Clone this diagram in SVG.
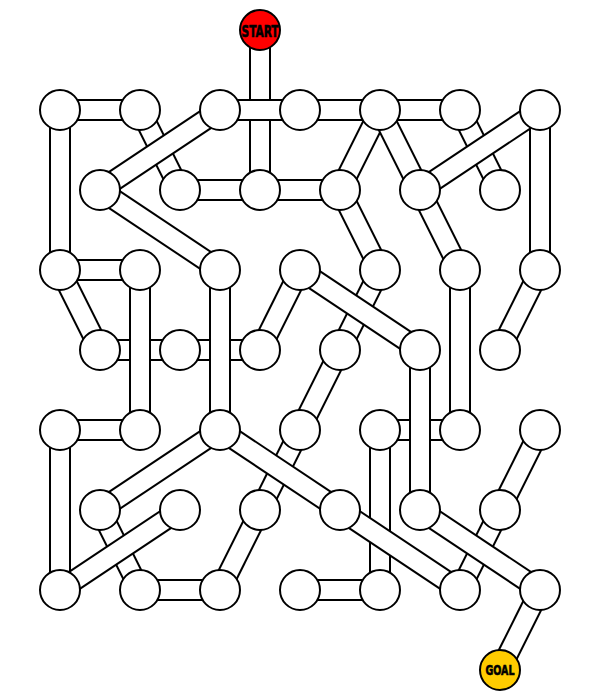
<svg xmlns="http://www.w3.org/2000/svg" width="600" height="700" viewBox="0 0 600 700">
<style>
.o{stroke:#000;stroke-width:22;stroke-linecap:butt}
.i{stroke:#fff;stroke-width:18;stroke-linecap:butt}
.n{fill:#fff;stroke:#000;stroke-width:2}
.lbl{font-family:"Liberation Sans Narrow","DejaVu Sans Condensed","Liberation Sans",sans-serif;font-weight:bold;fill:#000;stroke:#000;stroke-width:0.6;text-anchor:middle}
</style>
<defs>
<circle id="c" r="20" class="n"/>
</defs>
<rect width="600" height="700" fill="#fff"/>
<g id="connectors">
<g><line class="o" x1="260" y1="30" x2="260" y2="190"/><line class="i" x1="260" y1="30" x2="260" y2="190"/></g>
<g><line class="o" x1="60" y1="110" x2="140" y2="110"/><line class="i" x1="60" y1="110" x2="140" y2="110"/></g>
<g><line class="o" x1="60" y1="110" x2="60" y2="270"/><line class="i" x1="60" y1="110" x2="60" y2="270"/></g>
<g><line class="o" x1="140" y1="110" x2="180" y2="190"/><line class="i" x1="140" y1="110" x2="180" y2="190"/></g>
<g><line class="o" x1="220" y1="110" x2="100" y2="190"/><line class="i" x1="220" y1="110" x2="100" y2="190"/></g>
<g><line class="o" x1="220" y1="110" x2="380" y2="110"/><line class="i" x1="220" y1="110" x2="380" y2="110"/></g>
<g><line class="o" x1="380" y1="110" x2="460" y2="110"/><line class="i" x1="380" y1="110" x2="460" y2="110"/></g>
<g><line class="o" x1="380" y1="110" x2="340" y2="190"/><line class="i" x1="380" y1="110" x2="340" y2="190"/></g>
<g><line class="o" x1="380" y1="110" x2="420" y2="190"/><line class="i" x1="380" y1="110" x2="420" y2="190"/></g>
<g><line class="o" x1="460" y1="110" x2="500" y2="190"/><line class="i" x1="460" y1="110" x2="500" y2="190"/></g>
<g><line class="o" x1="540" y1="110" x2="420" y2="190"/><line class="i" x1="540" y1="110" x2="420" y2="190"/></g>
<g><line class="o" x1="540" y1="110" x2="540" y2="270"/><line class="i" x1="540" y1="110" x2="540" y2="270"/></g>
<g><line class="o" x1="180" y1="190" x2="340" y2="190"/><line class="i" x1="180" y1="190" x2="340" y2="190"/></g>
<g><line class="o" x1="100" y1="190" x2="220" y2="270"/><line class="i" x1="100" y1="190" x2="220" y2="270"/></g>
<g><line class="o" x1="340" y1="190" x2="380" y2="270"/><line class="i" x1="340" y1="190" x2="380" y2="270"/></g>
<g><line class="o" x1="420" y1="190" x2="460" y2="270"/><line class="i" x1="420" y1="190" x2="460" y2="270"/></g>
<g><line class="o" x1="60" y1="270" x2="140" y2="270"/><line class="i" x1="60" y1="270" x2="140" y2="270"/></g>
<g><line class="o" x1="60" y1="270" x2="100" y2="350"/><line class="i" x1="60" y1="270" x2="100" y2="350"/></g>
<g><line class="o" x1="100" y1="350" x2="260" y2="350"/><line class="i" x1="100" y1="350" x2="260" y2="350"/></g>
<g><line class="o" x1="140" y1="270" x2="140" y2="430"/><line class="i" x1="140" y1="270" x2="140" y2="430"/></g>
<g><line class="o" x1="220" y1="270" x2="220" y2="430"/><line class="i" x1="220" y1="270" x2="220" y2="430"/></g>
<g><line class="o" x1="300" y1="270" x2="260" y2="350"/><line class="i" x1="300" y1="270" x2="260" y2="350"/></g>
<g><line class="o" x1="380" y1="270" x2="340" y2="350"/><line class="i" x1="380" y1="270" x2="340" y2="350"/></g>
<g><line class="o" x1="300" y1="270" x2="420" y2="350"/><line class="i" x1="300" y1="270" x2="420" y2="350"/></g>
<g><line class="o" x1="460" y1="270" x2="460" y2="430"/><line class="i" x1="460" y1="270" x2="460" y2="430"/></g>
<g><line class="o" x1="540" y1="270" x2="500" y2="350"/><line class="i" x1="540" y1="270" x2="500" y2="350"/></g>
<g><line class="o" x1="340" y1="350" x2="300" y2="430"/><line class="i" x1="340" y1="350" x2="300" y2="430"/></g>
<g><line class="o" x1="380" y1="430" x2="460" y2="430"/><line class="i" x1="380" y1="430" x2="460" y2="430"/></g>
<g><line class="o" x1="420" y1="350" x2="420" y2="510"/><line class="i" x1="420" y1="350" x2="420" y2="510"/></g>
<g><line class="o" x1="60" y1="430" x2="140" y2="430"/><line class="i" x1="60" y1="430" x2="140" y2="430"/></g>
<g><line class="o" x1="60" y1="430" x2="60" y2="590"/><line class="i" x1="60" y1="430" x2="60" y2="590"/></g>
<g><line class="o" x1="220" y1="430" x2="100" y2="510"/><line class="i" x1="220" y1="430" x2="100" y2="510"/></g>
<g><line class="o" x1="300" y1="430" x2="260" y2="510"/><line class="i" x1="300" y1="430" x2="260" y2="510"/></g>
<g><line class="o" x1="220" y1="430" x2="340" y2="510"/><line class="i" x1="220" y1="430" x2="340" y2="510"/></g>
<g><line class="o" x1="380" y1="430" x2="380" y2="590"/><line class="i" x1="380" y1="430" x2="380" y2="590"/></g>
<g><line class="o" x1="540" y1="430" x2="500" y2="510"/><line class="i" x1="540" y1="430" x2="500" y2="510"/></g>
<g><line class="o" x1="100" y1="510" x2="140" y2="590"/><line class="i" x1="100" y1="510" x2="140" y2="590"/></g>
<g><line class="o" x1="180" y1="510" x2="60" y2="590"/><line class="i" x1="180" y1="510" x2="60" y2="590"/></g>
<g><line class="o" x1="260" y1="510" x2="220" y2="590"/><line class="i" x1="260" y1="510" x2="220" y2="590"/></g>
<g><line class="o" x1="340" y1="510" x2="460" y2="590"/><line class="i" x1="340" y1="510" x2="460" y2="590"/></g>
<g><line class="o" x1="500" y1="510" x2="460" y2="590"/><line class="i" x1="500" y1="510" x2="460" y2="590"/></g>
<g><line class="o" x1="420" y1="510" x2="540" y2="590"/><line class="i" x1="420" y1="510" x2="540" y2="590"/></g>
<g><line class="o" x1="140" y1="590" x2="220" y2="590"/><line class="i" x1="140" y1="590" x2="220" y2="590"/></g>
<g><line class="o" x1="300" y1="590" x2="380" y2="590"/><line class="i" x1="300" y1="590" x2="380" y2="590"/></g>
<g><line class="o" x1="540" y1="590" x2="500" y2="670"/><line class="i" x1="540" y1="590" x2="500" y2="670"/></g>
</g>
<g id="nodes">
<g id="start"><circle cx="260" cy="30" r="20" fill="#ff0000" stroke="#000" stroke-width="2"/><text class="lbl" x="260" y="36.5" font-size="16.5" textLength="37" lengthAdjust="spacingAndGlyphs">START</text></g>
<g id="goal"><circle cx="500" cy="670" r="20" fill="#ffcc00" stroke="#000" stroke-width="2"/><text class="lbl" x="500" y="675" font-size="14" textLength="29" lengthAdjust="spacingAndGlyphs">GOAL</text></g>
<g id="n0_0"><use href="#c" x="60" y="110"/></g>
<g id="n0_1"><use href="#c" x="140" y="110"/></g>
<g id="n0_2"><use href="#c" x="220" y="110"/></g>
<g id="n0_3"><use href="#c" x="300" y="110"/></g>
<g id="n0_4"><use href="#c" x="380" y="110"/></g>
<g id="n0_5"><use href="#c" x="460" y="110"/></g>
<g id="n0_6"><use href="#c" x="540" y="110"/></g>
<g id="n1_0"><use href="#c" x="100" y="190"/></g>
<g id="n1_1"><use href="#c" x="180" y="190"/></g>
<g id="n1_2"><use href="#c" x="260" y="190"/></g>
<g id="n1_3"><use href="#c" x="340" y="190"/></g>
<g id="n1_4"><use href="#c" x="420" y="190"/></g>
<g id="n1_5"><use href="#c" x="500" y="190"/></g>
<g id="n2_0"><use href="#c" x="60" y="270"/></g>
<g id="n2_1"><use href="#c" x="140" y="270"/></g>
<g id="n2_2"><use href="#c" x="220" y="270"/></g>
<g id="n2_3"><use href="#c" x="300" y="270"/></g>
<g id="n2_4"><use href="#c" x="380" y="270"/></g>
<g id="n2_5"><use href="#c" x="460" y="270"/></g>
<g id="n2_6"><use href="#c" x="540" y="270"/></g>
<g id="n3_0"><use href="#c" x="100" y="350"/></g>
<g id="n3_1"><use href="#c" x="180" y="350"/></g>
<g id="n3_2"><use href="#c" x="260" y="350"/></g>
<g id="n3_3"><use href="#c" x="340" y="350"/></g>
<g id="n3_4"><use href="#c" x="420" y="350"/></g>
<g id="n3_5"><use href="#c" x="500" y="350"/></g>
<g id="n4_0"><use href="#c" x="60" y="430"/></g>
<g id="n4_1"><use href="#c" x="140" y="430"/></g>
<g id="n4_2"><use href="#c" x="220" y="430"/></g>
<g id="n4_3"><use href="#c" x="300" y="430"/></g>
<g id="n4_4"><use href="#c" x="380" y="430"/></g>
<g id="n4_5"><use href="#c" x="460" y="430"/></g>
<g id="n4_6"><use href="#c" x="540" y="430"/></g>
<g id="n5_0"><use href="#c" x="100" y="510"/></g>
<g id="n5_1"><use href="#c" x="180" y="510"/></g>
<g id="n5_2"><use href="#c" x="260" y="510"/></g>
<g id="n5_3"><use href="#c" x="340" y="510"/></g>
<g id="n5_4"><use href="#c" x="420" y="510"/></g>
<g id="n5_5"><use href="#c" x="500" y="510"/></g>
<g id="n6_0"><use href="#c" x="60" y="590"/></g>
<g id="n6_1"><use href="#c" x="140" y="590"/></g>
<g id="n6_2"><use href="#c" x="220" y="590"/></g>
<g id="n6_3"><use href="#c" x="300" y="590"/></g>
<g id="n6_4"><use href="#c" x="380" y="590"/></g>
<g id="n6_5"><use href="#c" x="460" y="590"/></g>
<g id="n6_6"><use href="#c" x="540" y="590"/></g>
</g>
</svg>
